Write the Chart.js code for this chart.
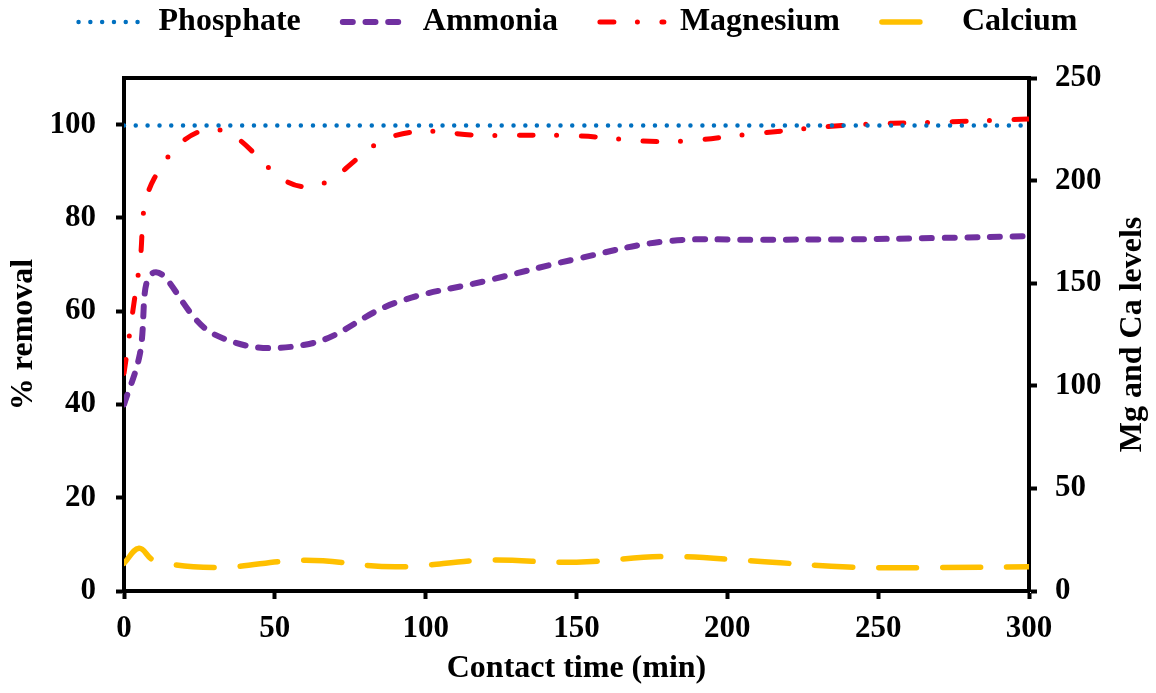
<!DOCTYPE html>
<html>
<head>
<meta charset="utf-8">
<title>Removal vs contact time</title>
<script src="https://cdn.jsdelivr.net/npm/chart.js@4.4.1/dist/chart.umd.min.js"></script>
<style>
  html, body { margin: 0; padding: 0; background: #fff; }
</style>
</head>
<body>
<canvas id="removalChart" width="1156" height="693"></canvas>
<script>
// contact time (min) and measured values
const timeMin = [0, 5, 10, 30, 60, 90, 120, 150, 180, 210, 240, 270, 300];
const phosphate = [99.8, 99.8, 99.8, 99.8, 99.8, 99.8, 99.8, 99.8, 99.8, 99.8, 99.8, 99.8, 99.8];
const ammonia = [40, 50, 68.3, 55, 52.8, 61.8, 66.5, 71.2, 75, 75.3, 75.4, 75.7, 76.1];
const magnesium = [106, 157, 201, 225, 197, 222, 222, 221.8, 219, 223, 227, 228.5, 230];
const calcium = [13.5, 20.8, 15, 11.5, 15, 11.8, 15, 14, 16.8, 14.5, 11.7, 11.4, 11.8];

const xTicks = [0, 50, 100, 150, 200, 250, 300];
const removalTicks = [0, 20, 40, 60, 80, 100];
const levelTicks = [0, 50, 100, 150, 200, 250];

const xTitle = 'Contact time (min)';
const leftTitle = '% removal';
const rightTitle = 'Mg and Ca levels';

const serif = '"Liberation Serif", "Times New Roman", serif';
const tickFont = { family: serif, size: 31, weight: 'bold' };
const titleFont = { family: serif, size: 32, weight: 'bold' };

function points(values) {
    return values.map((v, i) => ({ x: timeMin[i], y: v }));
}

function fixedTicks(list) {
    return scale => { scale.ticks = list.map(v => ({ value: v })); };
}

// legend samples use each line's own dash, width and colour
function legendLabels(chart) {
    const items = Chart.defaults.plugins.legend.labels.generateLabels(chart);
    items.forEach(item => {
        const ds = chart.data.datasets[item.datasetIndex];
        item.pointStyle = 'line';
        item.strokeStyle = ds.borderColor;
        item.fillStyle = ds.borderColor;
        item.lineWidth = ds.borderWidth;
        item.lineDash = ds.borderDash;
        item.lineDashOffset = 0;
        item.lineCap = 'round';
    });
    return items;
}

// legend keeps its row near the top but leaves room above the plot frame
const legendSpacer = {
    id: 'legendSpacer',
    beforeInit(chart) {
        const fit = chart.legend.fit;
        chart.legend.fit = function () {
            fit.call(this);
            this.height = 114;
        };
    }
};

// right axis title reads bottom-to-top like the left one
const rightAxisTitle = {
    id: 'rightAxisTitle',
    afterDraw(chart) {
        const ctx = chart.ctx;
        const s = chart.scales.y1;
        const area = chart.chartArea;
        ctx.save();
        ctx.translate(s.right - 23, (area.top + area.bottom) / 2);
        ctx.rotate(-Math.PI / 2);
        ctx.font = 'bold 32px ' + serif;
        ctx.fillStyle = '#000';
        ctx.textAlign = 'center';
        ctx.textBaseline = 'middle';
        ctx.fillText(rightTitle, 0, 0);
        ctx.restore();
    }
};

const axisGrid = { drawOnChartArea: false, drawTicks: true, tickLength: 8, tickWidth: 4, color: '#000' };
const axisBorder = { color: '#000', width: 4 };

new Chart(document.getElementById('removalChart'), {
    type: 'line',
    data: {
        datasets: [
            {
                label: 'Phosphate',
                data: points(phosphate),
                yAxisID: 'y',
                borderColor: '#0070C0',
                borderWidth: 4.5,
                borderDash: [0, 11.8],
                borderCapStyle: 'round'
            },
            {
                label: 'Ammonia',
                data: points(ammonia),
                yAxisID: 'y',
                borderColor: '#7030A0',
                borderWidth: 6,
                borderDash: [10, 12.7],
                borderCapStyle: 'round'
            },
            {
                label: 'Magnesium',
                data: points(magnesium),
                yAxisID: 'y1',
                borderColor: '#FF0000',
                borderWidth: 5,
                borderDash: [14, 23.5, 0, 24.5],
                borderCapStyle: 'round'
            },
            {
                label: 'Calcium',
                data: points(calcium),
                yAxisID: 'y1',
                borderColor: '#FFC000',
                borderWidth: 5.5,
                borderDash: [38, 26],
                borderCapStyle: 'round'
            }
        ]
    },
    options: {
        responsive: false,
        animation: false,
        devicePixelRatio: 1,
        layout: { padding: { top: -36, left: 0, right: 0, bottom: 0 } },
        elements: {
            line: { tension: 0.4, fill: false },
            point: { radius: 0, pointStyle: 'line', hoverRadius: 0 }
        },
        plugins: {
            tooltip: { enabled: false },
            legend: {
                position: 'top',
                labels: {
                    usePointStyle: true,
                    pointStyleWidth: 64,
                    padding: 42,
                    color: '#000',
                    font: { family: serif, size: 32, weight: 'bold' },
                    generateLabels: legendLabels
                }
            }
        },
        scales: {
            x: {
                type: 'linear',
                position: 'bottom',
                min: 0,
                max: 300,
                afterBuildTicks: fixedTicks(xTicks),
                afterFit: s => { s.height = 102; },
                ticks: { font: tickFont, color: '#000', padding: 11, maxRotation: 0 },
                grid: axisGrid,
                border: axisBorder,
                title: {
                    display: true,
                    text: xTitle,
                    color: '#000',
                    font: titleFont,
                    padding: { top: 0, bottom: 5 }
                }
            },
            xTop: {
                type: 'linear',
                axis: 'x',
                position: 'top',
                min: 0,
                max: 300,
                ticks: { display: false },
                grid: { display: false, drawTicks: false },
                border: axisBorder
            },
            y: {
                type: 'linear',
                position: 'left',
                min: 0,
                max: 110,
                afterBuildTicks: fixedTicks(removalTicks),
                afterFit: s => { s.width = 124; },
                ticks: { font: tickFont, color: '#000', padding: 20 },
                grid: axisGrid,
                border: axisBorder,
                title: {
                    display: true,
                    text: leftTitle,
                    color: '#000',
                    font: titleFont,
                    padding: { top: 5, bottom: 0 }
                }
            },
            y1: {
                type: 'linear',
                position: 'right',
                min: 0,
                max: 250,
                afterBuildTicks: fixedTicks(levelTicks),
                afterFit: s => { s.width = 127; },
                ticks: { font: tickFont, color: '#000', padding: 18 },
                grid: axisGrid,
                border: axisBorder
            }
        }
    },
    plugins: [legendSpacer, rightAxisTitle]
});
</script>
</body>
</html>
